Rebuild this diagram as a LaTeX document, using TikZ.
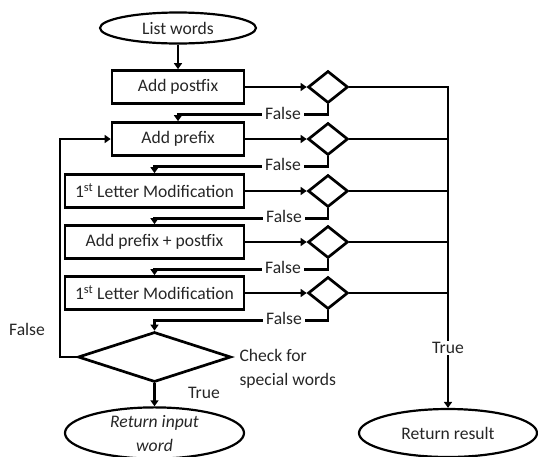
\documentclass[tikz,border=0pt]{standalone}
\usepackage{fontspec}
\setmainfont{Carlito}
\usetikzlibrary{shapes.geometric,arrows.meta}
\begin{document}
\begin{tikzpicture}[x=1pt,y=-1pt,
  every node/.style={font=\fontsize{17.6}{22}\selectfont, text=black!85},
  box/.style={draw=black, line width=2.7pt, minimum height=33pt, inner sep=0pt},
  term/.style={draw=black, ellipse, line width=2.2pt, inner sep=0pt, align=center},
  dec/.style={draw=black, diamond, line width=2.7pt, minimum width=40pt, minimum height=32pt, inner sep=0pt},
  conn/.style={line width=2.8pt},
  arr/.style={conn, -{Triangle[length=6pt,width=8pt]}},
  lbl/.style={fill=white, inner xsep=3pt, inner ysep=1pt}]
\useasboundingbox (0,0) rectangle (538,456);
% terminals
\node[term, minimum width=156pt, minimum height=31pt] (lw) at (178,28) {List words};
\node[term, minimum width=179pt, minimum height=50pt, font=\fontsize{17.6}{24}\selectfont\itshape] (ri) at (154.5,433) {Return input\\word};
\node[term, minimum width=178pt, minimum height=48pt] (rr) at (448,433) {Return result};
% boxes
\node[box, minimum width=132pt] (b1) at (178,87) {Add postfix};
\node[box, minimum width=132pt] (b2) at (178,139) {Add prefix};
\node[box, minimum width=179pt] (b3) at (154.5,191) {1\textsuperscript{st} Letter Modification};
\node[box, minimum width=179pt] (b4) at (154.5,242) {Add prefix + postfix};
\node[box, minimum width=179pt] (b5) at (154.5,293) {1\textsuperscript{st} Letter Modification};
% decisions
\node[dec] (d1) at (328,87) {};
\node[dec] (d2) at (328,139) {};
\node[dec] (d3) at (328,191) {};
\node[dec] (d4) at (328,242) {};
\node[dec] (d5) at (328,293) {};
\node[dec, minimum width=153pt, minimum height=50pt] (bd) at (154.5,357) {};
\node[anchor=west, align=left, font=\fontsize{17.6}{24}\selectfont] (cs) at (236,369) {Check for\\special words};
% connectors
\draw[arr] (lw.south) -- (b1.north);
\draw[arr] (b1.east) -- (d1.west);
\draw[arr] (b2.east) -- (d2.west);
\draw[arr] (b3.east) -- (d3.west);
\draw[arr] (b4.east) -- (d4.west);
\draw[arr] (b5.east) -- (d5.west);
\draw[arr] (d1.south) -- ++(0,10) -| (b2.north);
\draw[arr] (d2.south) -- ++(0,10) -| (b3.north);
\draw[arr] (d3.south) -- ++(0,10) -| (b4.north);
\draw[arr] (d4.south) -- ++(0,10) -| (b5.north);
\draw[arr] (d5.south) -- ++(0,10) -| (bd.north);
\coordinate (rc) at (448,87);
\draw[arr] (d1.east) -- (rc) -- (rr.north);
\draw[conn] (d2.east) -- (d2.east -| rc);
\draw[conn] (d3.east) -- (d3.east -| rc);
\draw[conn] (d4.east) -- (d4.east -| rc);
\draw[conn] (d5.east) -- (d5.east -| rc);
\coordinate (lp) at (60,357);
\draw[arr] (bd.west) -- (bd.west -| lp) |- (b2.west);
\draw[arr] (bd.south) -- (ri.north);
% labels
\node[lbl] (f1) at (283,113) {False};
\node[lbl] (f2) at (283,164) {False};
\node[lbl] (f3) at (284,216) {False};
\node[lbl] (f4) at (283,267) {False};
\node[lbl] (f5) at (284,318) {False};
\node[lbl] (t1) at (448,348) {True};
\node (t2) at (204,393) {True};
\node (f6) at (27,329) {False};
\end{tikzpicture}
\end{document}
